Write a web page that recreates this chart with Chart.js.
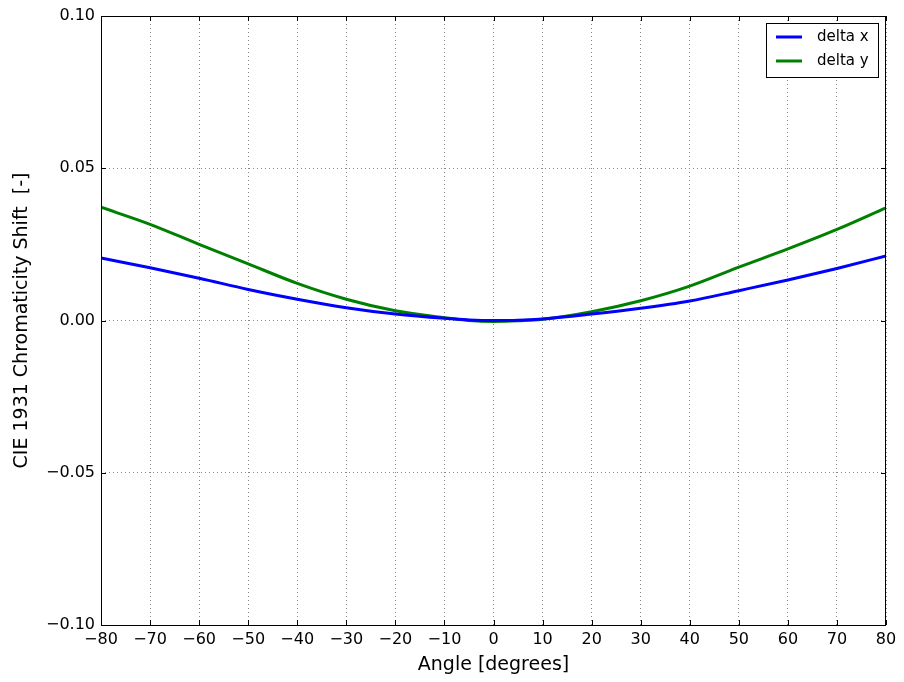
<!DOCTYPE html>
<html>
<head>
<meta charset="utf-8">
<script src="https://cdn.jsdelivr.net/npm/chart.js@4/dist/chart.umd.min.js"></script>
<style>
  html, body { margin: 0; padding: 0; background: #fff; }
  #wrap { width: 904px; height: 682px; }
</style>
</head>
<body>
<div id="wrap"><canvas id="chart" width="904" height="682"></canvas></div>
<script>
const angles = [-80, -70, -60, -50, -40, -30, -20, -10, -5, 0, 5, 10, 20, 30, 40, 50, 60, 70, 80];
const deltaX = [0.0205, 0.0173, 0.0139, 0.0102, 0.0070, 0.0042, 0.0021, 0.0007, 0.0002, 0.0000, 0.0001, 0.0005, 0.0021, 0.0040, 0.0064, 0.0098, 0.0133, 0.0171, 0.0212];
const deltaY = [0.0372, 0.0316, 0.0250, 0.0186, 0.0122, 0.0070, 0.0032, 0.0009, 0.0000, -0.0003, -0.0001, 0.0004, 0.0029, 0.0065, 0.0113, 0.0175, 0.0235, 0.0299, 0.0370];
const seriesNames = ["delta x", "delta y"];
const seriesColors = ["#0000ff", "#008000"];

const FONT = "'DejaVu Sans', sans-serif";
const minus = s => String(s).replace(/-/g, "\u2212");

const toPts = vals => angles.map((a, i) => ({ x: a, y: vals[i] }));

// inward ticks on all four sides + frame + legend box
const frame = {
  id: "frame",
  afterDraw(c) {
    const g = c.ctx, a = c.chartArea, sx = c.scales.x, sy = c.scales.y;
    g.save();
    g.strokeStyle = "#000";
    g.lineWidth = 1;
    g.strokeRect(a.left + 0.5, a.top + 0.5, a.right - a.left - 1, a.bottom - a.top);
    const L = 5;
    g.beginPath();
    sx.ticks.forEach(t => {
      const px = Math.round(sx.getPixelForValue(t.value)) + 0.5;
      g.moveTo(px, a.bottom); g.lineTo(px, a.bottom - L);
      g.moveTo(px, a.top); g.lineTo(px, a.top + L);
    });
    sy.ticks.forEach(t => {
      const py = Math.round(sy.getPixelForValue(t.value)) + 0.5;
      g.moveTo(a.left, py); g.lineTo(a.left + L, py);
      g.moveTo(a.right, py); g.lineTo(a.right - L, py);
    });
    g.stroke();

    // legend
    const bx = a.right - 120, by = a.top + 7, bw = 112, bh = 54;
    g.fillStyle = "#fff";
    g.fillRect(bx, by, bw, bh);
    g.strokeRect(bx + 0.5, by + 0.5, bw, bh);
    g.font = "15px " + FONT;
    g.textBaseline = "middle";
    seriesNames.forEach((n, i) => {
      const y = by + 14 + i * 24;
      g.strokeStyle = seriesColors[i];
      g.lineWidth = 3;
      g.beginPath(); g.moveTo(bx + 10, y); g.lineTo(bx + 36, y); g.stroke();
      g.fillStyle = "#000";
      g.fillText(n, bx + 51, y);
    });
    g.restore();
  }
};

new Chart(document.getElementById("chart"), {
  type: "line",
  data: {
    datasets: [deltaX, deltaY].map((v, i) => ({
      label: seriesNames[i],
      data: toPts(v),
      borderColor: seriesColors[i],
      backgroundColor: seriesColors[i],
      borderWidth: 3,
      pointRadius: 0,
      tension: 0.4,
      cubicInterpolationMode: "monotone",
      fill: false,
    })),
  },
  options: {
    responsive: false,
    animation: false,
    devicePixelRatio: 1,
    layout: { padding: { left: 0, top: 16, right: 18, bottom: 0 } },
    plugins: { legend: { display: false }, tooltip: { enabled: false } },
    scales: {
      x: {
        type: "linear",
        min: -80, max: 80,
        afterFit: s => { s.height = 57; },
        ticks: {
          stepSize: 10, autoSkip: false, maxRotation: 0, padding: 5,
          color: "#000", font: { family: FONT, size: 16 },
          callback: v => minus(v),
        },
        grid: { color: "#888", borderDash: [1, 3], drawTicks: false, lineWidth: 1 },
        border: { display: false, dash: [1, 3] },
        title: { display: true, text: "Angle [degrees]", color: "#000", font: { family: FONT, size: 19 }, padding: { top: 0, bottom: 6 } },
      },
      y: {
        min: -0.1, max: 0.1,
        afterFit: s => { s.width = 101; },
        ticks: {
          stepSize: 0.05, padding: 6,
          color: "#000", font: { family: FONT, size: 16 },
          callback: v => Math.abs(v) < 1e-9 ? "0.00" : minus(v.toFixed(2)),
        },
        grid: { color: "#888", drawTicks: false, lineWidth: 1 },
        border: { display: false, dash: [1, 3] },
        title: { display: true, text: "CIE 1931 Chromaticity Shift  [-]", color: "#000", font: { family: FONT, size: 19 }, padding: { top: 11, bottom: 0 } },
      },
    },
  },
  plugins: [frame],
});
</script>
</body>
</html>
